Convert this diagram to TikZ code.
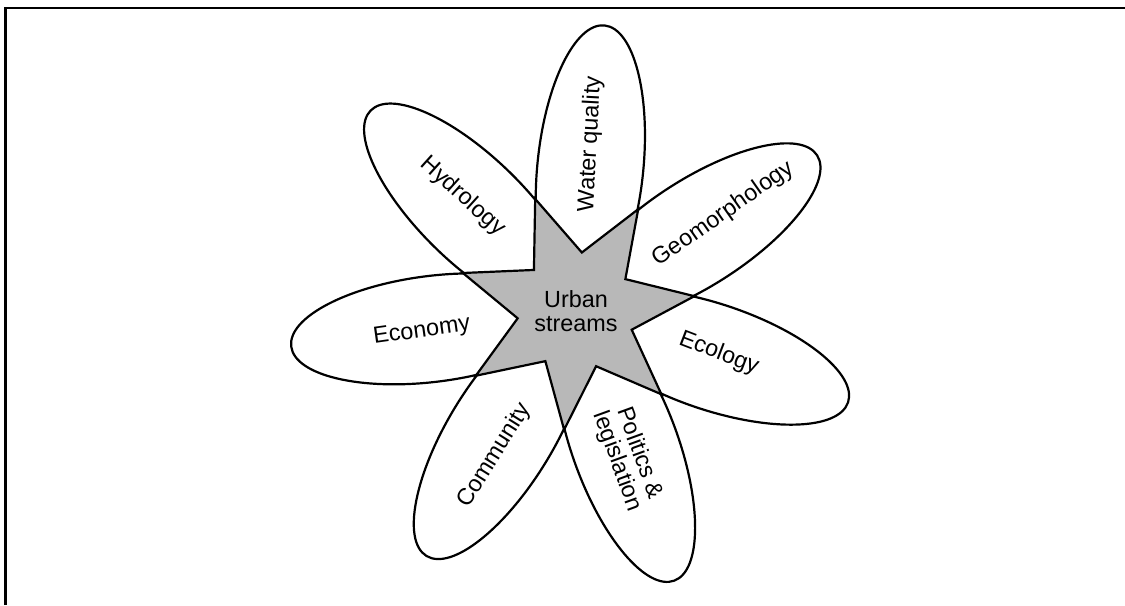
\documentclass[tikz,border=0pt]{standalone}
\usepackage{fontspec}
\setmainfont{Liberation Sans}
\usetikzlibrary{shapes.geometric}
\definecolor{hubgray}{RGB}{184,184,184}

\begin{document}
\begin{tikzpicture}[
  petal/.style = {ellipse, draw, line width=1.25pt, inner sep=0pt,
                  minimum width=5.7cm, minimum height=2.12cm},
  hub/.style = {star, star points=7, star point ratio=2.03, draw, line width=1.25pt,
                fill=hubgray, inner sep=0pt, minimum size=4.7cm, shape border rotate=20,
                align=center, font=\fontsize{13.3}{13.5}\selectfont},
  tag/.style = {align=center, inner sep=0pt, font=\fontsize{13.3}{13.5}\selectfont}
]
\useasboundingbox (-11.52,-5.88) rectangle (10.98,6.22);
\draw[line width=1.3pt] (-11.41,-5.88) -- (-11.41,6.06) -- (10.98,6.06);

\node[petal, rotate=84.3]   (water)     at (84.3:2.89)   {};
\node[petal, rotate=32.87]  (geomorph)  at (32.87:2.89)  {};
\node[petal, rotate=-18.56] (ecology)   at (-18.56:2.89) {};
\node[petal, rotate=-70]    (politics)  at (-70:2.89)    {};
\node[petal, rotate=-121.4] (community) at (-121.4:2.89) {};
\node[petal, rotate=-172.9] (economy)   at (-172.9:2.89) {};
\node[petal, rotate=135.7]  (hydrology) at (135.7:2.89)  {};

\node[hub] (hub) at (0,0) {Urban\\streams};

\node[tag, rotate=87]  (water-tag)     at (85:3.35)     {Water quality};
\node[tag, rotate=35]  (geomorph-tag)  at (33.3:3.53)   {Geomorphology};
\node[tag, rotate=-21] (ecology-tag)   at (-16.5:2.98)  {Ecology};
\node[tag, rotate=-70] (politics-tag)  at (-70.4:3.11)  {Politics \&\\legislation};
\node[tag, rotate=58]  (community-tag) at (-119.4:3.32) {Community};
\node[tag, rotate=8]   (economy-tag)   at (-172.4:3.11) {Economy};
\node[tag, rotate=-42] (hydrology-tag) at (134.7:3.22)  {Hydrology};

\end{tikzpicture}
\end{document}
